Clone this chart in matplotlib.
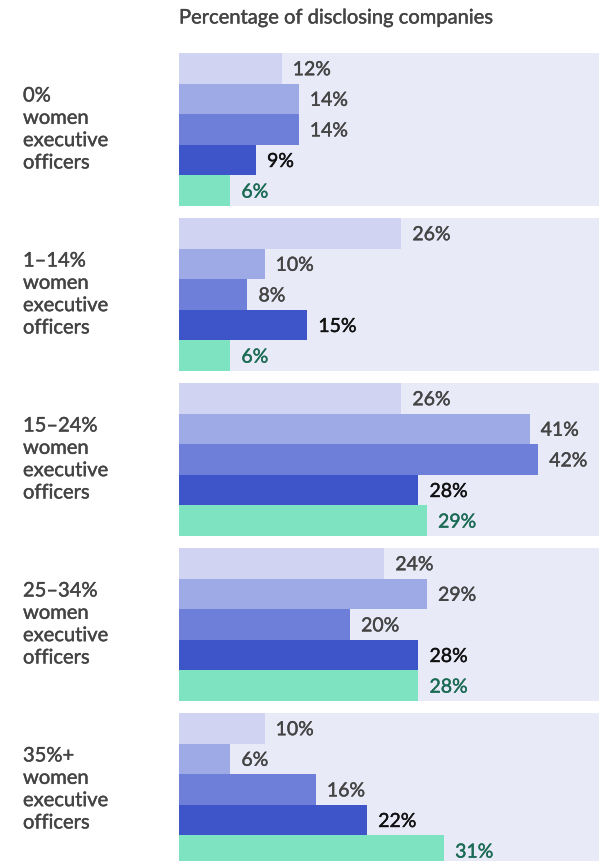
import matplotlib
matplotlib.use("Agg")
import matplotlib.pyplot as plt
import matplotlib.patheffects as pe
from matplotlib.patches import Rectangle

plt.rcParams['font.family'] = ['Lato', 'DejaVu Sans']

# Categories (one group of bars per category).
groups = ["0%\nwomen\nexecutive\nofficers",
          "1\u201314%\nwomen\nexecutive\nofficers",
          "15\u201324%\nwomen\nexecutive\nofficers",
          "25\u201334%\nwomen\nexecutive\nofficers",
          "35%+\nwomen\nexecutive\nofficers"]

# Five series, values in percent.
series_1 = [12, 26, 26, 24, 10]
series_2 = [14, 10, 41, 29, 6]
series_3 = [14, 8, 42, 20, 16]
series_4 = [9, 15, 28, 28, 22]
series_5 = [6, 6, 29, 28, 31]

title = "Percentage of disclosing companies"

bar_colors = ["#d0d3f1", "#9eaae6", "#6e7fd9", "#3e54c9", "#7ee3c1"]
label_colors = ["#444444", "#444444", "#444444", "#111111", "#1b6b55"]
panel_color = "#e9eaf8"


def medium(color):
    # Thin outline in the text colour, to get a medium-weight look.
    return [pe.withStroke(linewidth=0.3, foreground=color)]


W, H = 602, 861
fig = plt.figure(figsize=(W / 100.0, H / 100.0), dpi=100, facecolor='w')

# Axes placed in pixel terms.
ax_left, ax_right, ax_top = 179, 599, 53
ax = fig.add_axes([ax_left / W, 0.0, (ax_right - ax_left) / W, (H - ax_top) / H])

px_per_pct = 8.55
bar_px = 30.6
group_step = 165.0 / bar_px   # in bar units
x_max = (ax_right - ax_left) / px_per_pct
y_max = (H - ax_top) / bar_px

ax.set_xlim(0, x_max)
ax.set_ylim(y_max, 0)
ax.axis('off')

all_series = [series_1, series_2, series_3, series_4, series_5]

for g, name in enumerate(groups):
    y0 = g * group_step
    # Background panel for the group.
    ax.add_patch(Rectangle((0, y0), x_max, 5, facecolor=panel_color, edgecolor='none', zorder=0))

    for s, vals in enumerate(all_series):
        yc = y0 + s + 0.5
        ax.barh(yc, vals[g], height=1.0, color=bar_colors[s], edgecolor='none', zorder=2)
        ax.annotate("%d%%" % vals[g], xy=(vals[g], yc), xytext=(8, -1),
                    textcoords='offset points', ha='left', va='center',
                    fontsize=14, color=label_colors[s], zorder=3,
                    path_effects=medium(label_colors[s]))

    # Group label on the left.
    yc_px = ax_top + (y0 + 2.5) * bar_px
    fig.text(23 / W, 1 - yc_px / H, name, ha='left', va='center',
             fontsize=14.5, color='#444444', linespacing=1.38,
             path_effects=medium('#444444'))

# Title above the bars.
fig.text(ax_left / W, 1 - 18 / H, title, ha='left', va='center',
         fontsize=14.5, color='#444444', path_effects=medium('#444444'))

fig.savefig("out.png", dpi=100, facecolor='w')
